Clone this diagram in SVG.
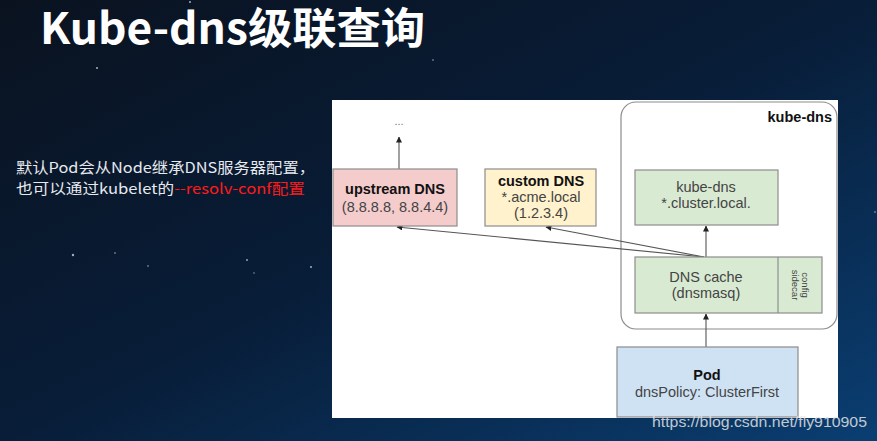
<svg xmlns="http://www.w3.org/2000/svg" width="877" height="441" viewBox="0 0 877 441">
<defs>
<linearGradient id="bg" x1="0" y1="0" x2="1" y2="1">
<stop offset="0" stop-color="#0a121f"/>
<stop offset="0.5" stop-color="#081d38"/>
<stop offset="1" stop-color="#0a3e72"/>
</linearGradient>
<marker id="ah" viewBox="0 0 6 6" refX="5.5" refY="3" markerWidth="6" markerHeight="6" markerUnits="userSpaceOnUse" orient="auto">
<path d="M0,0 L6,3 L0,6 z" fill="#222"/>
</marker>
<style>
.t{font-family:"Liberation Sans",Arial,sans-serif;font-size:14.5px;fill:#444;text-anchor:middle}
.b{font-weight:bold;fill:#111}
.box{stroke:#8c8c8c;stroke-width:1.2}
.ln{stroke:#555;stroke-width:1.1;fill:none;marker-end:url(#ah)}
.star{fill:#9fb0c8}
</style>
</defs>
<rect width="877" height="441" fill="url(#bg)"/>
<g id="stars">
<circle class="star" cx="73" cy="255" r="1.2"/>
<circle class="star" cx="115" cy="253" r="0.8"/>
<circle class="star" cx="148" cy="266" r="0.8"/>
<circle class="star" cx="247" cy="260" r="0.9"/>
<circle class="star" cx="254" cy="273" r="0.7"/>
<circle class="star" cx="311" cy="267" r="1"/>
<circle class="star" cx="190" cy="2" r="1"/>
<circle class="star" cx="97" cy="68" r="1"/>
<circle class="star" cx="433" cy="60" r="0.8"/>
<circle class="star" cx="875" cy="212" r="0.8"/>
</g>
<text x="40" y="44" font-family="'Noto Sans CJK SC','Noto Sans',sans-serif" font-weight="bold" font-size="43" fill="#ffffff" textLength="385" lengthAdjust="spacingAndGlyphs">Kube-dns级联查询</text>
<g font-family="'Noto Sans CJK SC','Noto Sans',sans-serif" font-size="14.5" fill="#e6e9ee">
<text x="16" y="173" textLength="299" lengthAdjust="spacingAndGlyphs">默认Pod会从Node继承DNS服务器配置，</text>
<text x="16" y="194" textLength="289" lengthAdjust="spacingAndGlyphs">也可以通过kubelet的<tspan fill="#ff1a1a">--resolv-conf配置</tspan></text>
</g>
<rect x="332" y="100" width="506" height="318" fill="#ffffff"/>
<g id="kube-dns-group">
<rect x="621" y="102" width="216" height="227" rx="15" fill="none" stroke="#8c8c8c" stroke-width="1.2"/>
<text class="t b" x="832" y="122" style="text-anchor:end">kube-dns</text>
</g>
<g id="connectors">
<line class="ln" x1="399" y1="169" x2="399" y2="137"/>
<line class="ln" x1="706" y1="257" x2="706" y2="226"/>
<line class="ln" x1="706" y1="347" x2="706" y2="314"/>
<line class="ln" x1="704" y1="257" x2="397" y2="227"/>
<line class="ln" x1="704" y1="257" x2="546" y2="227"/>
</g>
<g id="dots"><text class="t" x="399" y="125" style="font-size:11px;fill:#777">...</text></g>
<g id="upstream">
<rect class="box" x="333" y="169" width="124" height="57" fill="#f4cccc"/>
<text class="t b" x="395" y="194">upstream DNS</text>
<text class="t" x="395" y="212">(8.8.8.8, 8.8.4.4)</text>
</g>
<g id="custom">
<rect class="box" x="485" y="169" width="111" height="57" fill="#fff2cc"/>
<text class="t b" x="541" y="186">custom DNS</text>
<text class="t" x="541" y="202">*.acme.local</text>
<text class="t" x="541" y="218">(1.2.3.4)</text>
</g>
<g id="kube-dns">
<rect class="box" x="635" y="170" width="143" height="55" fill="#d9ead3"/>
<text class="t" x="706" y="192">kube-dns</text>
<text class="t" x="706" y="208">*.cluster.local.</text>
</g>
<g id="dns-cache">
<rect class="box" x="635" y="257" width="187" height="56" fill="#d9ead3"/>
<line x1="778" y1="257" x2="778" y2="313" stroke="#8c8c8c" stroke-width="1.2"/>
<text class="t" x="706" y="282">DNS cache</text>
<text class="t" x="706" y="298">(dnsmasq)</text>
<g transform="translate(800,285) rotate(90)">
<text class="t" x="0" y="-2" style="font-size:9.5px">config</text>
<text class="t" x="0" y="8" style="font-size:9.5px">sidecar</text>
</g>
</g>
<g id="pod">
<rect class="box" x="617" y="347" width="181" height="70" fill="#cfe2f3"/>
<text class="t b" x="707" y="380">Pod</text>
<text class="t" x="707" y="397">dnsPolicy: ClusterFirst</text>
</g>
<text x="652" y="427" font-family="'Liberation Sans',Arial,sans-serif" font-size="15.5" fill="#e4e4e4" fill-opacity="0.85" textLength="215" lengthAdjust="spacingAndGlyphs">https://blog.csdn.net/fly910905</text>
</svg>
